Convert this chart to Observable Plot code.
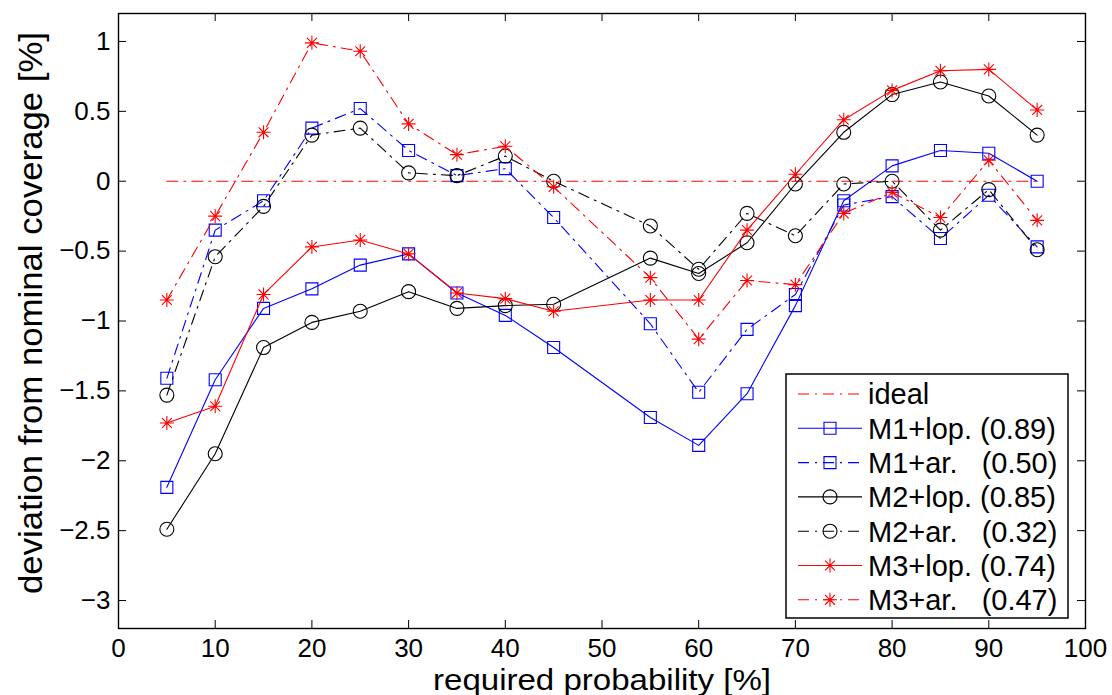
<!DOCTYPE html>
<html>
<head>
<meta charset="utf-8">
<script src="https://cdn.jsdelivr.net/npm/d3@7"></script>
<script src="https://cdn.jsdelivr.net/npm/@observablehq/plot@0.6"></script>
<style>
  html, body { margin: 0; padding: 0; background: #fff; }
  #wrap { position: relative; width: 1112px; height: 695px; }
  #wrap svg { font-family: "Liberation Sans", Arial, Helvetica, sans-serif; }
</style>
</head>
<body>
<div id="wrap"></div>
<script>
// ---- data ----
const prob = [5, 10, 15, 20, 25, 30, 35, 40, 45, 55, 60, 65, 70, 75, 80, 85, 90, 95];
const m1lop = [-2.19, -1.42, -0.91, -0.77, -0.60, -0.52, -0.80, -0.96, -1.19, -1.69, -1.89, -1.52, -0.89, -0.14, 0.11, 0.22, 0.20, 0.00];
const m1ar  = [-1.41, -0.35, -0.14, 0.38, 0.52, 0.22, 0.04, 0.09, -0.26, -1.02, -1.51, -1.06, -0.81, -0.17, -0.11, -0.41, -0.10, -0.47];
const m2lop = [-2.49, -1.95, -1.19, -1.01, -0.93, -0.79, -0.91, -0.89, -0.88, -0.55, -0.66, -0.44, -0.02, 0.35, 0.62, 0.71, 0.61, 0.33];
const m2ar  = [-1.53, -0.54, -0.18, 0.33, 0.38, 0.06, 0.04, 0.18, 0.00, -0.32, -0.63, -0.23, -0.39, -0.02, 0.00, -0.35, -0.06, -0.49];
const m3lop = [-1.73, -1.61, -0.81, -0.47, -0.42, -0.52, -0.80, -0.84, -0.93, -0.85, -0.85, -0.35, 0.05, 0.44, 0.65, 0.79, 0.80, 0.51];
const m3ar  = [-0.85, -0.25, 0.35, 0.99, 0.93, 0.41, 0.19, 0.25, -0.04, -0.69, -1.13, -0.71, -0.74, -0.23, -0.08, -0.26, 0.15, -0.28];
const idealX = [5, 95];
const idealY = [0, 0];
const seriesNames = ["ideal", "M1+lop. (0.89)", "M1+ar.   (0.50)", "M2+lop. (0.85)", "M2+ar.   (0.32)", "M3+lop. (0.74)", "M3+ar.   (0.47)"];
const xTicks = [0, 10, 20, 30, 40, 50, 60, 70, 80, 90, 100];
const yTicks = [-3, -2.5, -2, -1.5, -1, -0.5, 0, 0.5, 1];
const xLabel = "required probability [%]";
const yLabel = "deviation from nominal coverage [%]";

// ---- marker symbols (MATLAB style) ----
const squareSym = { draw(ctx, size) { const r = Math.sqrt(size / Math.PI); ctx.rect(-r, -r, 2 * r, 2 * r); } };
const circleSym = { draw(ctx, size) { const r = Math.sqrt(size / Math.PI); ctx.moveTo(r, 0); ctx.arc(0, 0, r, 0, 2 * Math.PI); } };
const starSym = { draw(ctx, size) {
  const r = Math.sqrt(size / Math.PI), d = r * 0.7071;
  ctx.moveTo(-r, 0); ctx.lineTo(r, 0); ctx.moveTo(0, -r); ctx.lineTo(0, r);
  ctx.moveTo(-d, -d); ctx.lineTo(d, d); ctx.moveTo(-d, d); ctx.lineTo(d, -d);
} };

const DASHDOT = "11,6,2,6";
const BLUE = "#0000ff", RED = "#ff0000", BLACK = "#000000";

const series = [
  { name: seriesNames[1], values: m1lop, color: BLUE,  dash: null,    sym: squareSym, r: 6 },
  { name: seriesNames[2], values: m1ar,  color: BLUE,  dash: DASHDOT, sym: squareSym, r: 6 },
  { name: seriesNames[3], values: m2lop, color: BLACK, dash: null,    sym: circleSym, r: 7 },
  { name: seriesNames[4], values: m2ar,  color: BLACK, dash: DASHDOT, sym: circleSym, r: 7 },
  { name: seriesNames[5], values: m3lop, color: RED,   dash: null,    sym: starSym,   r: 7 },
  { name: seriesNames[6], values: m3ar,  color: RED,   dash: DASHDOT, sym: starSym,   r: 7 }
];

const W = 1112, H = 695, ML = 118, MR = 27, MT = 13, MB = 67;
const innerW = W - ML - MR, innerH = H - MT - MB;
const fmt = d => String(d).replace("-", "\u2212");

const marks = [
  Plot.line(idealX, { x: d => d, y: (d, i) => idealY[i], stroke: RED, strokeWidth: 1.1, strokeDasharray: DASHDOT })
];
for (const s of series) {
  marks.push(Plot.line(prob, { x: d => d, y: (d, i) => s.values[i], stroke: s.color, strokeWidth: 1.1, strokeDasharray: s.dash }));
  marks.push(Plot.dot(prob, { x: d => d, y: (d, i) => s.values[i], symbol: s.sym, r: s.r, stroke: s.color, fill: "none", strokeWidth: 1.1 }));
}
marks.push(
  // inward ticks on all four sides
  Plot.tickX(xTicks, { x: d => d, insetTop: innerH - 8, stroke: BLACK, strokeWidth: 1 }),
  Plot.tickX(xTicks, { x: d => d, insetBottom: innerH - 8, stroke: BLACK, strokeWidth: 1 }),
  Plot.tickY(yTicks, { y: d => d, insetRight: innerW - 8, stroke: BLACK, strokeWidth: 1 }),
  Plot.tickY(yTicks, { y: d => d, insetLeft: innerW - 8, stroke: BLACK, strokeWidth: 1 }),
  Plot.frame({ stroke: BLACK, strokeWidth: 1.4 }),
  Plot.axisX(xTicks, { tickSize: 0, tickPadding: 10, fontSize: 26, tickFormat: fmt, label: null }),
  Plot.axisY(yTicks, { tickSize: 0, tickPadding: 8, fontSize: 26, tickFormat: fmt, label: null }),
  Plot.text([xLabel], { text: d => d, frameAnchor: "bottom", textAnchor: "middle", lineAnchor: "bottom", dy: 61, fontSize: 29, fill: BLACK }),
  Plot.text([yLabel], { text: d => d, frameAnchor: "left", textAnchor: "middle", lineAnchor: "bottom", rotate: -90, dx: -77, dy: -8, fontSize: 33, fill: BLACK })
);

const chart = Plot.plot({
  width: W, height: H,
  marginLeft: ML, marginRight: MR, marginTop: MT, marginBottom: MB,
  x: { domain: [0, 100] },
  y: { domain: [-3.2, 1.2] },
  style: { fontFamily: "Liberation Sans, Arial, sans-serif", background: "#fff", color: "#000", overflow: "visible" },
  marks
});
const wrap = document.getElementById("wrap");
wrap.appendChild(chart);

// stretch the axis titles to the reference's wide lettering
for (const t of chart.querySelectorAll("text")) {
  if (t.textContent === xLabel) { t.setAttribute("textLength", 338); t.setAttribute("lengthAdjust", "spacingAndGlyphs"); }
  if (t.textContent === yLabel) { t.setAttribute("textLength", 562); t.setAttribute("lengthAdjust", "spacingAndGlyphs"); }
}

// ---- legend (inside the axes, lower right) ----
const LW = 284, LH = 246;
const leg = d3.select(wrap).append("svg")
  .attr("width", LW).attr("height", LH)
  .style("position", "absolute").style("left", "785px").style("top", "373px");
leg.append("rect").attr("x", 1).attr("y", 1).attr("width", LW - 2).attr("height", LH - 2)
  .attr("fill", "#fff").attr("stroke", BLACK).attr("stroke-width", 1.5);
const legendRows = [{ name: seriesNames[0], color: RED, dash: DASHDOT, sym: null, r: 0 }, ...series];
legendRows.forEach((s, i) => {
  const cy = 21 + i * 34.3;
  const g = leg.append("g").attr("transform", `translate(0,${cy})`);
  g.append("line").attr("x1", 13).attr("x2", 77).attr("y1", 0).attr("y2", 0)
    .attr("stroke", s.color).attr("stroke-width", 1.1).attr("stroke-dasharray", s.dash);
  if (s.sym) {
    g.append("path").attr("transform", "translate(45,0)")
      .attr("d", d3.symbol(s.sym, s.r * s.r * Math.PI)())
      .attr("fill", "none").attr("stroke", s.color).attr("stroke-width", 1.1);
  }
  g.append("text").attr("x", 83).attr("dy", "0.36em")
    .attr("font-size", 29).style("white-space", "pre").attr("fill", BLACK)
    .text(s.name);
});
</script>
</body>
</html>
